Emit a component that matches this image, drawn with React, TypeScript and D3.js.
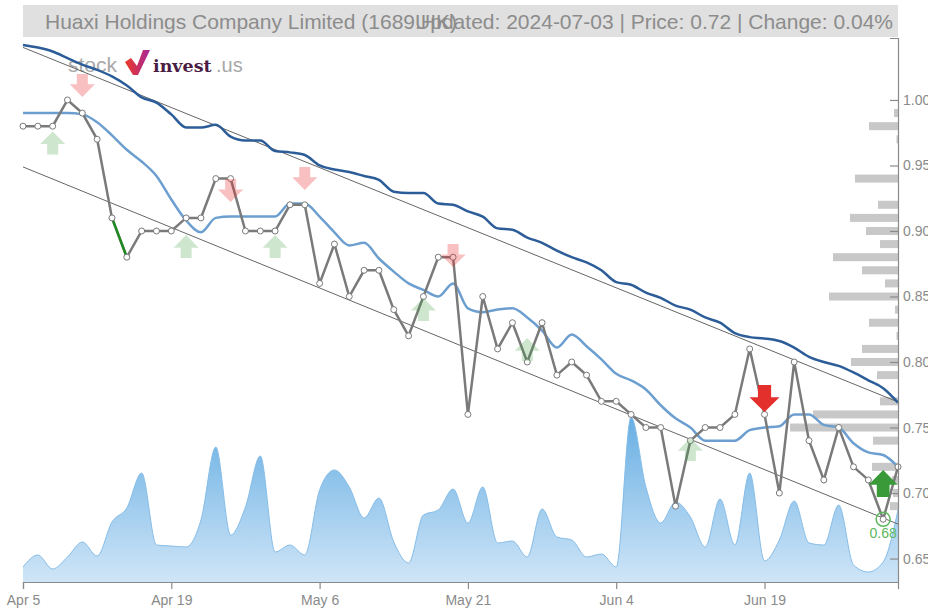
import React, { useEffect, useRef } from "react";
import * as d3 from "d3";

// ---- data ----
const dates = [
  "2024-04-05", "2024-04-08", "2024-04-09", "2024-04-10", "2024-04-11", "2024-04-12",
  "2024-04-15", "2024-04-16", "2024-04-17", "2024-04-18", "2024-04-19",
  "2024-04-22", "2024-04-23", "2024-04-24", "2024-04-25", "2024-04-26",
  "2024-04-29", "2024-04-30", "2024-05-02", "2024-05-03",
  "2024-05-06", "2024-05-07", "2024-05-08", "2024-05-09", "2024-05-10",
  "2024-05-13", "2024-05-14", "2024-05-16", "2024-05-17", "2024-05-20",
  "2024-05-21", "2024-05-22", "2024-05-23", "2024-05-24",
  "2024-05-27", "2024-05-28", "2024-05-29", "2024-05-30", "2024-05-31",
  "2024-06-03", "2024-06-04", "2024-06-05", "2024-06-06", "2024-06-07",
  "2024-06-11", "2024-06-12", "2024-06-13", "2024-06-14",
  "2024-06-17", "2024-06-18", "2024-06-19", "2024-06-20", "2024-06-21",
  "2024-06-24", "2024-06-25", "2024-06-26", "2024-06-27", "2024-06-28",
  "2024-07-02", "2024-07-03",
];

const closePrice = [
  0.98, 0.98, 0.98, 1.0, 0.99, 0.97, 0.91, 0.88, 0.9, 0.9,
  0.9, 0.91, 0.91, 0.94, 0.94, 0.9, 0.9, 0.9, 0.92, 0.92,
  0.86, 0.89, 0.85, 0.87, 0.87, 0.84, 0.82, 0.85, 0.88, 0.88,
  0.76, 0.85, 0.81, 0.83, 0.8, 0.83, 0.79, 0.8, 0.79, 0.77,
  0.77, 0.76, 0.75, 0.75, 0.69, 0.74, 0.75, 0.75, 0.76, 0.81,
  0.76, 0.7, 0.8, 0.74, 0.71, 0.75, 0.72, 0.71, 0.68, 0.72,
];

const maShort = [
  0.99, 0.99, 0.99, 0.99, 0.989, 0.983, 0.973, 0.962, 0.953, 0.942,
  0.924, 0.908, 0.899, 0.91, 0.911, 0.911, 0.911, 0.911, 0.921, 0.921,
  0.911, 0.899, 0.889, 0.891, 0.879, 0.869, 0.86, 0.855, 0.85, 0.86,
  0.841, 0.838, 0.84, 0.841, 0.834, 0.824, 0.811, 0.821, 0.812, 0.802,
  0.791, 0.786, 0.779, 0.767, 0.757, 0.75, 0.74, 0.74, 0.74, 0.748,
  0.75, 0.751, 0.76, 0.76, 0.752, 0.75, 0.738, 0.731, 0.729, 0.72,
];

const maLong = [
  1.042, 1.04, 1.037, 1.032, 1.027, 1.023, 1.018, 1.011, 1.002, 0.998,
  0.989, 0.979, 0.979, 0.981, 0.972, 0.969, 0.969, 0.961, 0.96, 0.958,
  0.95, 0.947, 0.945, 0.942, 0.939, 0.93, 0.929, 0.929, 0.921, 0.92,
  0.915, 0.911, 0.902, 0.901, 0.895, 0.891, 0.885, 0.88, 0.876, 0.87,
  0.861, 0.859, 0.853, 0.849, 0.843, 0.84, 0.834, 0.83, 0.822, 0.819,
  0.818, 0.816, 0.811, 0.804, 0.8, 0.797, 0.792, 0.786, 0.78, 0.769,
];

const volume = [
  15, 27, 13, 25, 40, 26, 60, 74, 109, 37,
  36, 35, 62, 135, 47, 75, 126, 30, 37, 27,
  92, 112, 95, 64, 84, 40, 19, 67, 72, 93,
  59, 95, 39, 41, 25, 73, 45, 42, 25, 28,
  15, 165, 95, 59, 80, 65, 35, 83, 37, 109,
  21, 42, 81, 39, 37, 77, 17, 10, 20, 72,
];

const profilePrice = [
  0.99, 0.98, 0.97, 0.94, 0.92, 0.91, 0.9, 0.89, 0.88, 0.87, 0.86, 0.85, 0.84,
  0.83, 0.82, 0.81, 0.8, 0.79, 0.77, 0.76, 0.75, 0.74, 0.72, 0.71, 0.7, 0.69,
];
const profileVolume = [
  4, 29, 1.5, 43, 20, 48, 32, 18, 65, 36, 13, 69, 3,
  29, 1.5, 36, 47, 21, 18, 85, 108, 25, 26, 6, 5, 8,
];

const channelUpper = [1.0401, 0.7695];
const channelLower = [0.9489, 0.6763];

const highlightSegment = [6, 7];

const weakSellIdx = [4, 14, 19, 29];
const weakSellLevel = [1.0023, 0.9221, 0.9313, 0.8725];
const weakBuyIdx = [2, 11, 17, 27, 34, 45];
const weakBuyLevel = [0.976, 0.8969, 0.8969, 0.8489, 0.8183, 0.742];
const strongSellIdx = [50];
const strongSellLevel = [0.7618];
const strongBuyIdx = [58];
const strongBuyLevel = [0.7176];

const lowIdx = 58;

const yTicks = [0.65, 0.7, 0.75, 0.8, 0.85, 0.9, 0.95, 1.0];
const xTickDates = ["2024-04-05", "2024-04-19", "2024-05-06", "2024-05-21", "2024-06-04", "2024-06-19"];
const xTickLabels = ["Apr 5", "Apr 19", "May 6", "May 21", "Jun 4", "Jun 19"];

const titleLeft = "Huaxi Holdings Company Limited (1689.HK)";
const titleRight = "Updated: 2024-07-03 | Price: 0.72 | Change: 0.04%";

// ---- chart ----
const W = 928;
const H = 608;
const L = 23;
const R = 898;
const T = 38;
const B = 582;

function arrowPoints(cx: number, tip: number, w: number, h: number, dir: number) {
  const hh = h * 0.55;
  const sw = w * 0.44;
  const base = tip - dir * h;
  const neck = tip - dir * hh;
  return [
    [cx - sw / 2, base],
    [cx + sw / 2, base],
    [cx + sw / 2, neck],
    [cx + w / 2, neck],
    [cx, tip],
    [cx - w / 2, neck],
    [cx - sw / 2, neck],
  ]
    .map((p) => p.join(","))
    .join(" ");
}

export default function App() {
  const gx = useRef<SVGGElement>(null);
  const gy = useRef<SVGGElement>(null);

  const x = d3.scalePoint<string>().domain(dates).range([L, R]);
  const y = d3.scaleLinear().domain([0.6321, 1.0473]).range([B, T]);
  const yVol = d3.scaleLinear().domain([0, 165]).range([B, 417]);
  const xProf = d3.scaleLinear().domain([0, 108]).range([R, 790]);

  const xi = (i: number) => x(dates[i]) as number;

  const volArea = d3
    .area<number>()
    .x((_, i) => xi(i))
    .y0(B)
    .y1((d) => yVol(d))
    .curve(d3.curveMonotoneX);
  const volLine = d3
    .line<number>()
    .x((_, i) => xi(i))
    .y((d) => yVol(d))
    .curve(d3.curveMonotoneX);

  const smooth = d3
    .line<number>()
    .x((_, i) => xi(i))
    .y((d) => y(d))
    .curve(d3.curveMonotoneX);
  const straight = d3
    .line<number>()
    .x((_, i) => xi(i))
    .y((d) => y(d));

  useEffect(() => {
    const ax = d3.select(gx.current!);
    ax.selectAll("*").remove();
    ax.call(
      d3
        .axisBottom(x)
        .tickValues(xTickDates)
        .tickFormat((_, i) => xTickLabels[i])
        .tickSizeInner(7)
        .tickSizeOuter(7)
        .tickPadding(6) as any
    );
    const ay = d3.select(gy.current!);
    ay.selectAll("*").remove();
    ay.call(
      d3
        .axisRight(y)
        .tickValues(yTicks)
        .tickFormat(d3.format(".2f") as any)
        .tickSizeInner(-8)
        .tickSizeOuter(-8)
        .tickPadding(5) as any
    );
    [ax, ay].forEach((g) => {
      g.select(".domain").attr("stroke", "#8a8a8a").attr("stroke-width", 1.2);
      g.selectAll(".tick line").attr("stroke", "#8a8a8a").attr("stroke-width", 1.2);
      g.selectAll(".tick text")
        .attr("fill", "#8a8a8a")
        .style("font-size", "14px")
        .style("font-family", "'Liberation Sans', Arial, sans-serif");
    });
  }, []);

  const pricePts = closePrice.map((d, i) => [xi(i), y(d)]);

  return (
    <svg
      width={W}
      height={H}
      style={{ position: "absolute", left: 0, top: 0, background: "#fff" }}
      fontFamily="'Liberation Sans', Arial, sans-serif"
    >
      <defs>
        <linearGradient id="volGrad" gradientUnits="userSpaceOnUse" x1="0" y1="417" x2="0" y2={B}>
          <stop offset="0" stopColor="#68afe3" />
          <stop offset="1" stopColor="#cfe5f7" />
        </linearGradient>
        <linearGradient id="logoGrad" x1="0" y1="0" x2="1" y2="0">
          <stop offset="0" stopColor="#ee3a24" />
          <stop offset="1" stopColor="#a4289a" />
        </linearGradient>
      </defs>

      {/* title band */}
      <rect x={L} y={5} width={R - L} height={32} fill="#e0e0e0" />
      <text x={45} y={29} fontSize={21} fill="#8c8c8c">
        {titleLeft}
      </text>
      <text x={893} y={29} fontSize={21} fill="#8c8c8c" textAnchor="end">
        {titleRight}
      </text>

      {/* volume */}
      <path d={volArea(volume) || ""} fill="url(#volGrad)" />
      <path d={volLine(volume) || ""} fill="none" stroke="#86bde8" strokeWidth={1} />

      {/* logo */}
      <g>
        <text x={68} y={72} fontSize={21} fill="#a8a8a8">
          stock
        </text>
        <polygon
          points="125,62 131,58 137,66 143,50 150,50 138,75 133,75"
          fill="url(#logoGrad)"
        />
        <text
          x={153}
          y={72}
          fontSize={17.5}
          fontWeight="bold"
          fill="#4a1d44"
          fontFamily="'DejaVu Serif', serif"
        >
          invest
        </text>
        <text x={216} y={72} fontSize={20} fill="#a8a8a8">
          .us
        </text>
      </g>

      {/* price profile */}
      {profilePrice.map((p, i) => (
        <rect
          key={"pf" + i}
          x={xProf(profileVolume[i])}
          y={y(p) - 4}
          width={R - xProf(profileVolume[i])}
          height={8}
          fill="#c8c8c8"
        />
      ))}

      {/* channel */}
      <line
        x1={xi(0)}
        y1={y(channelUpper[0])}
        x2={xi(dates.length - 1)}
        y2={y(channelUpper[1])}
        stroke="#666"
        strokeWidth={1}
      />
      <line
        x1={xi(0)}
        y1={y(channelLower[0])}
        x2={xi(dates.length - 1)}
        y2={y(channelLower[1])}
        stroke="#666"
        strokeWidth={1}
      />

      {/* moving averages */}
      <path d={smooth(maLong) || ""} fill="none" stroke="#2c5d98" strokeWidth={2.5} />
      <path d={smooth(maShort) || ""} fill="none" stroke="#6c9fd0" strokeWidth={2.5} />

      {/* price */}
      <path d={straight(closePrice) || ""} fill="none" stroke="#7a7a7a" strokeWidth={2.5} />
      <line
        x1={pricePts[highlightSegment[0]][0]}
        y1={pricePts[highlightSegment[0]][1]}
        x2={pricePts[highlightSegment[1]][0]}
        y2={pricePts[highlightSegment[1]][1]}
        stroke="#1f8a1f"
        strokeWidth={2.5}
      />
      {pricePts.map((p, i) => (
        <circle key={"pt" + i} cx={p[0]} cy={p[1]} r={3} fill="#fff" stroke="#7a7a7a" strokeWidth={1} />
      ))}

      {/* signals */}
      {weakSellIdx.map((idx, k) => (
        <polygon
          key={"ws" + k}
          points={arrowPoints(xi(idx), y(weakSellLevel[k]), 25, 23, 1)}
          fill="#e8302e"
          opacity={0.3}
        />
      ))}
      {weakBuyIdx.map((idx, k) => (
        <polygon
          key={"wb" + k}
          points={arrowPoints(xi(idx), y(weakBuyLevel[k]), 25, 23, -1)}
          fill="#3a9a3a"
          opacity={0.25}
        />
      ))}
      {strongSellIdx.map((idx, k) => (
        <polygon
          key={"ss" + k}
          points={arrowPoints(xi(idx), y(strongSellLevel[k]), 30, 27, 1)}
          fill="#e3302d"
        />
      ))}
      {strongBuyIdx.map((idx, k) => (
        <polygon
          key={"sb" + k}
          points={arrowPoints(xi(idx), y(strongBuyLevel[k]), 29, 27, -1)}
          fill="#3a9a3a"
        />
      ))}

      {/* low marker */}
      <circle
        cx={xi(lowIdx)}
        cy={y(closePrice[lowIdx])}
        r={7}
        fill="none"
        stroke="#5cb85c"
        strokeWidth={1.5}
      />
      <text x={xi(lowIdx)} y={538} fontSize={14} fill="#5cb85c" textAnchor="middle">
        {closePrice[lowIdx].toFixed(2)}
      </text>

      {/* axes */}
      <g ref={gx} transform={`translate(0,${B})`} />
      <g ref={gy} transform={`translate(${R},0)`} />
    </svg>
  );
}
